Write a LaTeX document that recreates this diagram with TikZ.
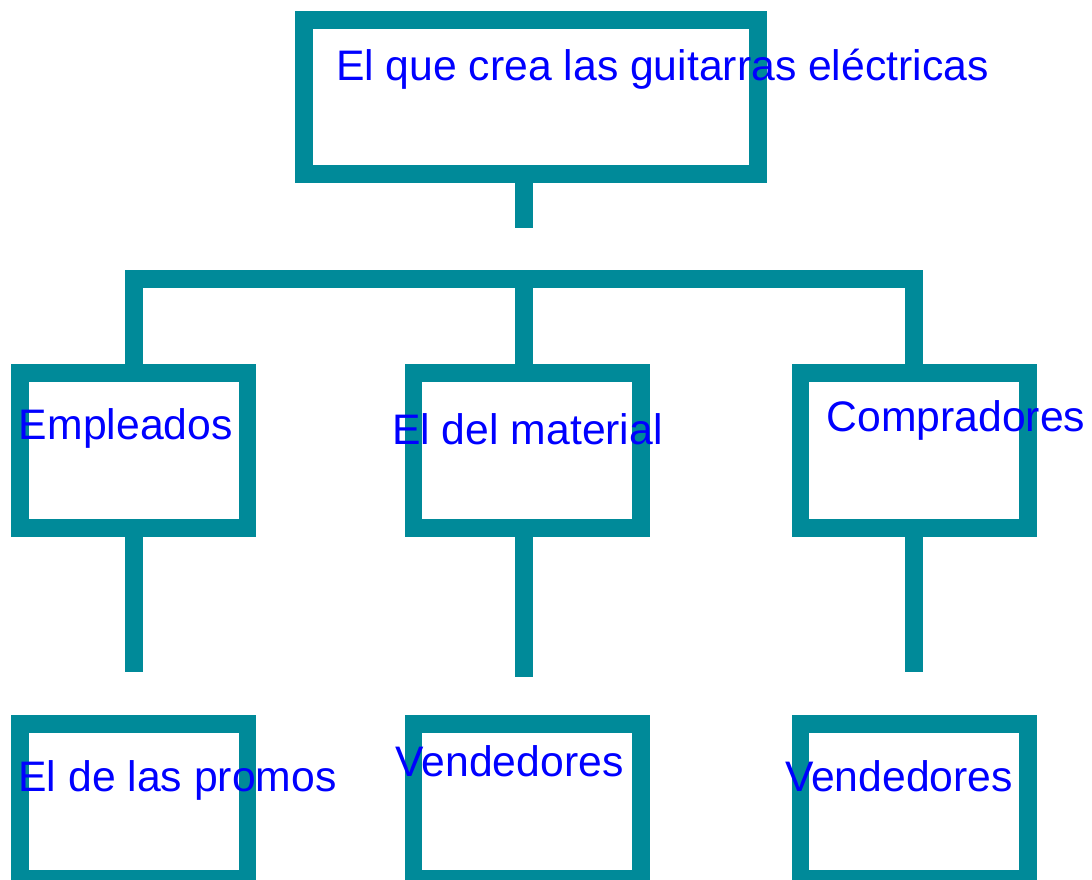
\documentclass[tikz,border=0pt]{standalone}
\usepackage{fontspec}
\setmainfont{Liberation Sans}
\definecolor{teal0}{RGB}{0,138,153}
\definecolor{txtblue}{RGB}{0,0,255}
\begin{document}
\begin{tikzpicture}[x=1pt,y=-1pt,
  orgbox/.style={draw=teal0,line width=17.5pt,rectangle,inner sep=0pt,outer sep=0pt,
    minimum width=227.5pt,minimum height=155pt},
  link/.style={draw=teal0,line width=17.5pt,line cap=butt,line join=miter},
  lbl/.style={anchor=base west,inner sep=0pt,outer sep=0pt,text=txtblue,
    font=\fontsize{42.7}{50}\selectfont}]
\useasboundingbox (0,0) rectangle (1092,879);
\clip (0,0) rectangle (1092,879);
% boxes
\node[orgbox,minimum width=454pt,minimum height=154pt] (top) at (531,97) {};
\node[orgbox] (emp) at (133.75,450.5) {};
\node[orgbox] (mat) at (527,450.5) {};
\node[orgbox] (com) at (914,450.5) {};
\node[orgbox] (pro) at (133.75,801.5) {};
\node[orgbox] (ven1) at (527,801.5) {};
\node[orgbox] (ven2) at (914,801.5) {};
% free ends
\coordinate (stubA) at (524,174);
\coordinate (stubB) at (524,227.7);
\coordinate (barL) at (134,279);
\coordinate (barM) at (524,279);
\coordinate (barR) at (914,279);
\coordinate (endL) at (134,671.7);
\coordinate (endM) at (524,677.3);
\coordinate (endR) at (914,671.7);
% connectors
\draw[link] (stubA) -- (stubB);
\draw[link] (emp.north -| barL) -- (barL) -- (barR) -- (com.north -| barR);
\draw[link] (barM) -- (mat.north -| barM);
\draw[link] (emp.south -| endL) -- (endL);
\draw[link] (mat.south -| endM) -- (endM);
\draw[link] (com.south -| endR) -- (endR);
% labels
\node[lbl] (tTop) at (336,80.7) {El que crea las guitarras eléctricas};
\node[lbl] (tEmp) at (19,439.3) {Empleados};
\node[lbl] (tMat) at (392.2,444) {El del material};
\node[lbl] (tCom) at (826.6,431) {Compradores};
\node[lbl] (tPro) at (18.5,791.7) {El de las promos};
\node[lbl] (tVen1) at (395.6,776.7) {Vendedores};
\node[lbl] (tVen2) at (785,791.7) {Vendedores};
\end{tikzpicture}
\end{document}
